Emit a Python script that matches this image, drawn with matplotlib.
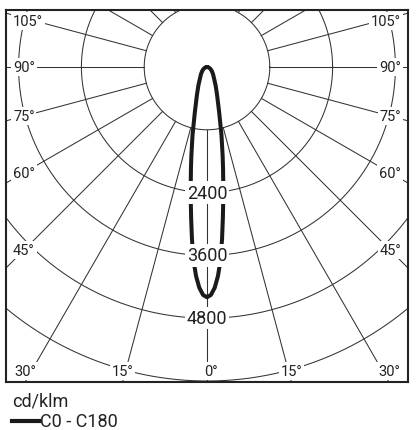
import numpy as np
import matplotlib
matplotlib.use("Agg")
import matplotlib.pyplot as plt
from matplotlib.lines import Line2D

plt.rcParams['font.family'] = ['Roboto', 'DejaVu Sans']

# ---- data (cd/klm) ----
gamma_deg = [0, 1, 2, 3, 4, 5, 6, 7, 8, 9, 10, 12, 15, 20, 25, 30, 40, 50, 60, 70, 80, 90]
intensity_c0_c180 = [4400, 4355, 4220, 4000, 3700, 3300, 2900, 2550, 2230, 1960, 1720,
                     1330, 900, 560, 390, 280, 180, 120, 80, 45, 20, 0]
ring_values = [1200, 2400, 3600, 4800, 6000]
ring_labels = ["2400", "3600", "4800"]
angle_lines = list(range(0, 181, 15))
side_label_angles = [45, 60, 75, 90, 105]
bottom_label_angles = [0, 15, 30]
unit_label = "cd/klm"
series_label = "C0 - C180"

# ---- geometry (pixels) ----
W, H = 419, 431
cx, cy = 207, 68            # pole position in pixels (from top-left)
px_per_1200 = 62.8
k = 1200 / px_per_1200      # data units per pixel
box_l, box_r, box_t, box_b = 6, 408, 11, 383

fig = plt.figure(figsize=(W / 100, H / 100), dpi=100)
ax = fig.add_axes([box_l / W, (H - box_b) / H, (box_r - box_l) / W, (box_b - box_t) / H])
ax.set_xlim((box_l - cx) * k, (box_r - cx) * k)
ax.set_ylim(-(box_b - cy) * k, (cy - box_t) * k)
ax.set_xticks([])
ax.set_yticks([])
for s in ax.spines.values():
    s.set_linewidth(1.5)
    s.set_color('#222222')

grid_col = '#333333'
# rings
t = np.linspace(0, 2 * np.pi, 721)
for r in ring_values:
    ax.plot(r * np.cos(t), r * np.sin(t), color=grid_col, lw=0.75, zorder=1)
# radial lines from the innermost ring outward
for a in angle_lines:
    ar = np.radians(a)
    for side in (-1, 1):
        rr = np.array([ring_values[0], 12000])
        ax.plot(side * rr * np.sin(ar), -rr * np.cos(ar), color=grid_col, lw=0.75, zorder=1)

# curve
g = np.radians(np.array(gamma_deg, dtype=float))
I = np.array(intensity_c0_c180, dtype=float)
gg = np.concatenate([-g[::-1], g[1:]])
II = np.concatenate([I[::-1], I[1:]])
ax.plot(II * np.sin(gg), -II * np.cos(gg), color='#1a1a1a', lw=2.9, zorder=2,
        solid_capstyle='round', solid_joinstyle='round')

txt_col = '#222222'
bb = dict(boxstyle='square,pad=0.12', fc='white', ec='none')

# ring value labels
for lab in ring_labels:
    v = float(lab)
    ax.text(0, -v, lab, ha='center', va='center', fontsize=13, color=txt_col,
            bbox=bb, zorder=3)

# side angle labels
for a in side_label_angles:
    ar = np.radians(a)
    ypx = cy + (cx - 24) / np.tan(ar)
    ypx = max(ypx, 22)
    yd = -(ypx - cy) * k
    ax.text((13 - cx) * k, yd, f"{a}°", ha='left', va='center', fontsize=10.5,
            color=txt_col, bbox=bb, zorder=3)
    ax.text((401 - cx) * k, yd, f"{a}°", ha='right', va='center', fontsize=10.5,
            color=txt_col, bbox=bb, zorder=3)

# bottom angle labels
for a in bottom_label_angles:
    ar = np.radians(a)
    dx = (box_b - cy) * np.tan(ar)
    yd = -(372 - cy) * k
    if a == 0:
        ax.text(4 * k, yd, "0°", ha='center', va='center', fontsize=10.5,
                color=txt_col, bbox=bb, zorder=3)
    else:
        for side in (-1, 1):
            ax.text(side * dx * k, yd, f"{a}°", ha='center', va='center',
                    fontsize=10.5, color=txt_col, bbox=bb, zorder=3)

# legend
fig.text(12 / W, 1 - 402 / H, unit_label, ha='left', va='center', fontsize=13, color=txt_col)
fig.add_artist(Line2D([12 / W, 39 / W], [1 - 422 / H, 1 - 422 / H], color='#1a1a1a', lw=3,
                      transform=fig.transFigure))
fig.text(40 / W, 1 - 422 / H, series_label, ha='left', va='center', fontsize=13, color=txt_col)

fig.savefig("out.png", dpi=100)
